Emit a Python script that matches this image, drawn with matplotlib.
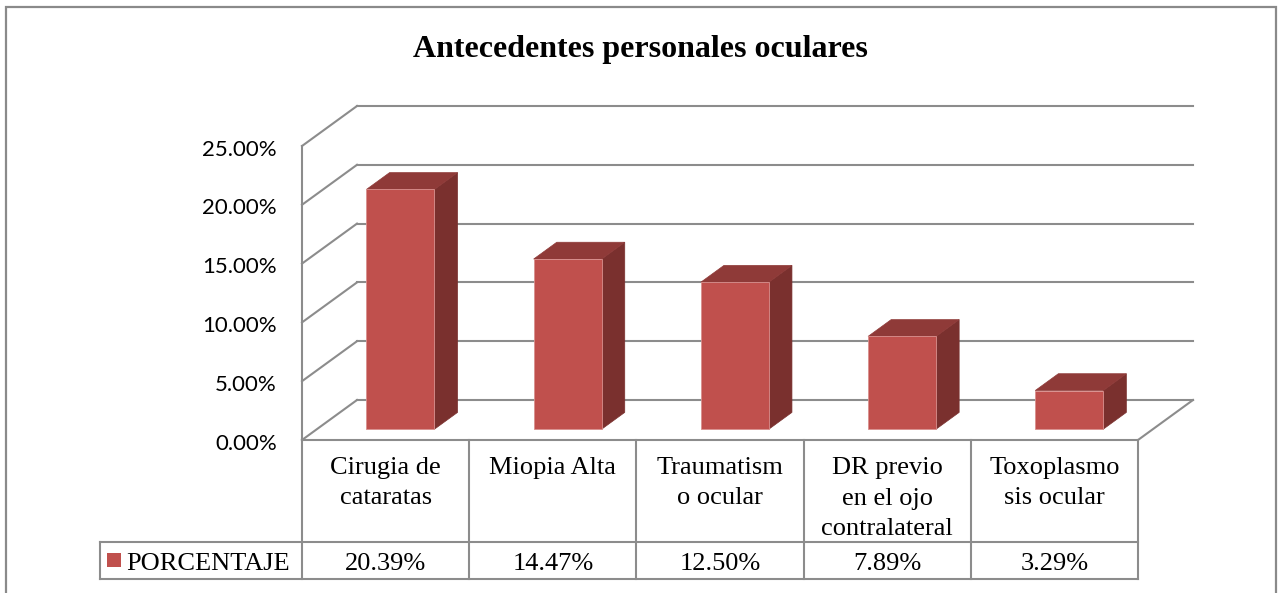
import numpy as np
import matplotlib
matplotlib.use("Agg")
import matplotlib.pyplot as plt
from matplotlib.patches import Polygon, Rectangle

# data
categories = ["Cirugia de\ncataratas", "Miopia Alta", "Traumatism\no ocular",
              "DR previo\nen el ojo\ncontralateral", "Toxoplasmo\nsis ocular"]
porcentaje = [20.39, 14.47, 12.50, 7.89, 3.29]
yticks = [0, 5, 10, 15, 20, 25]
series_name = "PORCENTAJE"
title = "Antecedentes personales oculares"

W, H = 1278, 593
fig = plt.figure(figsize=(W / 100, H / 100), dpi=100)
ax = fig.add_axes([0, 0, 1, 1])

# pixel layout of the floor front edge -> data units (category, percent)
px0, pxw = 302, 167.2      # left edge, px per category
py0, pys = 440, 11.76      # 0% line, px per percent
ax.set_xlim(-px0 / pxw, (W - px0) / pxw)
ax.set_ylim((py0 - H) / pys, py0 / pys)
ax.axis('off')

DX, DY = 55 / pxw, 40 / pys    # depth offset of the back wall
n = len(categories)
grid = '#8c8c8c'
lw = 1.5

# back wall grid + left wall diagonals
for t in yticks:
    ax.plot([DX, n + DX], [t + DY, t + DY], color=grid, lw=lw, zorder=1)
    ax.plot([0, DX], [t, t + DY], color=grid, lw=lw, zorder=1)
    ax.text(-0.15, t - 0.3, f"{t:.2f}%", ha='right', va='center',
            fontsize=16, family='Lato', color='#000000')
ax.plot([0, 0], [0, yticks[-1]], color=grid, lw=lw, zorder=1)
# floor
ax.plot([0, n, n + DX], [0, 0, DY], color=grid, lw=lw, zorder=1)

# 3d bars
f0, f1 = 0.27, 0.69
bw = 68 / pxw
front, top, side = '#c0504d', '#8f3a38', '#7a302e'
for i, v in enumerate(porcentaje):
    xl = i + 0.5 - bw / 2
    xr = i + 0.5 + bw / 2
    ax0, ay0 = f0 * DX, f0 * DY
    ax1, ay1 = f1 * DX, f1 * DY
    ax.add_patch(Polygon([(xr + ax0, ay0), (xr + ax1, ay1), (xr + ax1, v + ay1),
                          (xr + ax0, v + ay0)], closed=True, fc=side, ec=side, lw=0.5, zorder=3))
    ax.add_patch(Polygon([(xl + ax0, v + ay0), (xr + ax0, v + ay0), (xr + ax1, v + ay1),
                          (xl + ax1, v + ay1)], closed=True, fc=top, ec=top, lw=0.5, zorder=3))
    ax.add_patch(Rectangle((xl + ax0, ay0), bw, v, fc=front, ec='#d9908e', lw=0.6, zorder=4))

# data table
r1 = (py0 - 542) / pys
r2 = (py0 - 579) / pys
xleg = (100 - px0) / pxw
tkw = dict(color=grid, lw=lw, zorder=1)
for k in range(n + 1):
    ax.plot([k, k], [0, r2], **tkw)
ax.plot([xleg, n], [r1, r1], **tkw)
ax.plot([xleg, n], [r2, r2], **tkw)
ax.plot([xleg, xleg], [r1, r2], **tkw)

serif = 'Liberation Serif'
fs = 19
yrow = (py0 - 564) / pys
for i, (c, v) in enumerate(zip(categories, porcentaje)):
    ax.text(i + 0.5, (py0 - 457) / pys, c, ha='center', va='top', fontsize=fs,
            family=serif, linespacing=1.5)
    ax.text(i + 0.5, yrow, f"{v:.2f}%", ha='center', va='center',
            fontsize=fs, family=serif)

ax.add_patch(Rectangle(((107 - px0) / pxw, (py0 - 567) / pys), 14 / pxw, 14 / pys,
                       fc=front, ec='none'))
ax.text((126 - px0) / pxw, yrow, series_name, ha='left', va='center',
        fontsize=fs, family=serif)

fig.text(640 / W, 1 - 50 / H, title, ha='center', va='center', fontsize=23,
         family=serif, weight='bold')

# chart border
fig.patches.append(Rectangle((6 / W, -0.05), 1270 / W, 1.05 - 7 / H, transform=fig.transFigure,
                             fill=False, ec='#8a8a8a', lw=1.6))

fig.savefig('out.png', dpi=100)
